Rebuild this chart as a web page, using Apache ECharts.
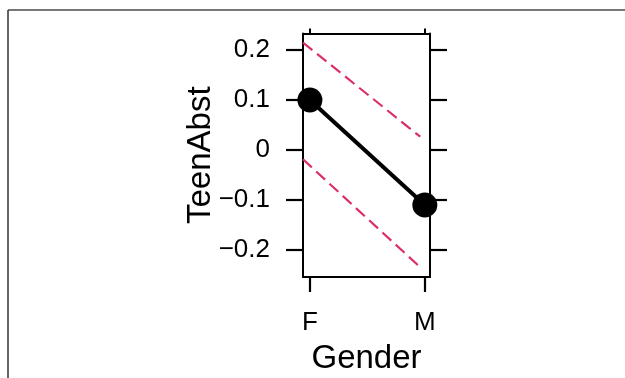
<!DOCTYPE html>
<html><head><meta charset="utf-8">
<script src="https://cdn.jsdelivr.net/npm/echarts@6/dist/echarts.min.js"></script>
<style>html,body{margin:0;padding:0;background:#fff}#c{width:625px;height:378px}</style>
</head><body><div id="c"></div>
<script>
// Data
var categories = ['F', 'M'];
var categoryPos = [1, 2];
var fitValues = [0.1, -0.11];
var upperX = [0.94, 1.96];
var upperValues = [0.2146, 0.0266];
var lowerX = [0.94, 1.97];
var lowerValues = [-0.0186, -0.2366];
var yTicks = [-0.2, -0.1, 0, 0.1, 0.2];

function fmtY(v) {
  var r = Math.round(v * 10) / 10;
  if (r === 0) return '0';
  var s = Math.abs(r).toString();
  return (r < 0 ? '\u2212' : '') + s;
}
function pairs(xs, ys) { return xs.map(function (x, i) { return [x, ys[i]]; }); }

var font = 'Liberation Sans, Arial, Helvetica, sans-serif';
var chart = echarts.init(document.getElementById('c'), null, {renderer: 'canvas'});
var yBase = {
  type: 'value', min: -0.254, max: 0.233,
  splitLine: {show: false},
  axisLine: {show: true, lineStyle: {color: '#000', width: 2}},
  axisTick: {show: true, inside: false, length: 17, customValues: yTicks, lineStyle: {color: '#000', width: 2.2}}
};
var xBase = {
  type: 'value', min: 0.94, max: 2.045,
  splitLine: {show: false},
  axisLine: {show: true, onZero: false, lineStyle: {color: '#000', width: 2}}
};
chart.setOption({
  backgroundColor: '#fff',
  animation: false,
  grid: {left: 303, right: 195, top: 33.5, bottom: 101, containLabel: false, outerBoundsMode: 'none'},
  xAxis: [
    Object.assign({}, xBase, {
      position: 'bottom',
      name: 'Gender', nameLocation: 'middle', nameGap: 65,
      nameTextStyle: {fontFamily: font, fontSize: 33, color: '#000'},
      axisTick: {show: true, length: 15, customValues: categoryPos, lineStyle: {color: '#000', width: 2.2}},
      axisLabel: {show: true, margin: 33, customValues: categoryPos, fontFamily: font, fontSize: 26, color: '#000',
        formatter: function (v) { return categories[categoryPos.indexOf(Math.round(v))] || ''; }}
    }),
    Object.assign({}, xBase, {
      position: 'top',
      axisTick: {show: true, length: 5, customValues: categoryPos, lineStyle: {color: '#000', width: 2}},
      axisLabel: {show: false}
    })
  ],
  yAxis: [
    Object.assign({}, yBase, {
      position: 'left',
      name: 'TeenAbst', nameLocation: 'middle', nameGap: 86, nameMoveOverlap: false,
      nameTextStyle: {fontFamily: font, fontSize: 33, color: '#000'},
      axisLabel: {show: true, margin: 33, customValues: yTicks, fontFamily: font, fontSize: 26, color: '#000', formatter: fmtY}
    }),
    Object.assign({}, yBase, {position: 'right', axisLabel: {show: false}})
  ],
  series: [
    {
      type: 'line', name: 'upper', data: pairs(upperX, upperValues), symbol: 'none', silent: true,
      lineStyle: {color: '#dc2f68', width: 2.2, type: [12, 6]}, clip: true, z: 2
    },
    {
      type: 'line', name: 'lower', data: pairs(lowerX, lowerValues), symbol: 'none', silent: true,
      lineStyle: {color: '#dc2f68', width: 2.2, type: [12, 6]}, clip: true, z: 2
    },
    {
      type: 'line', name: 'fit', data: pairs(categoryPos, fitValues), symbol: 'circle', symbolSize: 25,
      itemStyle: {color: '#000'}, lineStyle: {color: '#000', width: 4}, clip: true, z: 3
    }
  ],
  graphic: [
    {type: 'line', shape: {x1: 8, y1: 10, x2: 625, y2: 10}, style: {stroke: '#777', lineWidth: 2}, silent: true},
    {type: 'line', shape: {x1: 8, y1: 10, x2: 8, y2: 378}, style: {stroke: '#333', lineWidth: 1.5}, silent: true}
  ]
});
</script></body></html>
